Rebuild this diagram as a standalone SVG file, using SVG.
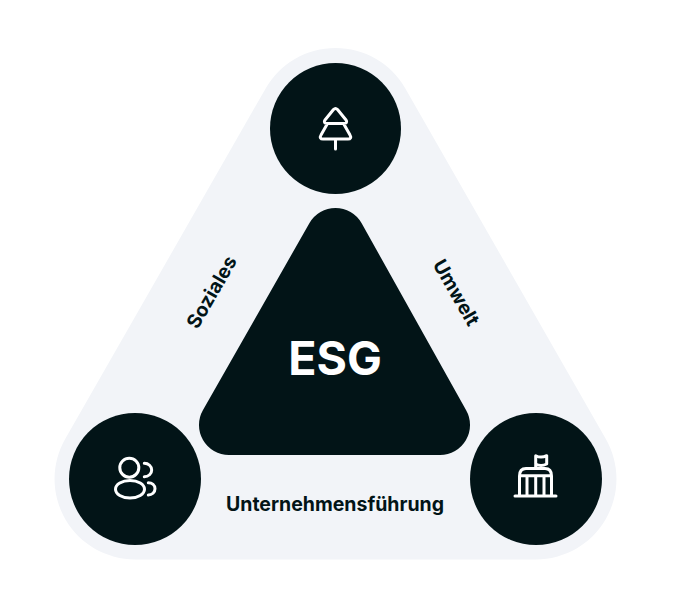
<svg xmlns="http://www.w3.org/2000/svg" width="674" height="606" viewBox="0 0 674 606">
<style>
.c{fill:#021417}
.i{fill:none;stroke:#fff;stroke-width:3;stroke-linecap:round;stroke-linejoin:round}
.l{font-family:"Inter","Liberation Sans",sans-serif;font-weight:700;font-size:19.500px;fill:#021417;text-anchor:middle}
</style>
<rect width="674" height="606" fill="#fff"/>
<g id="background"><path d="M265.800 88.200A80.500 80.500 0 0 1 405.200 88.200L605.700 438.800A80.500 80.500 0 0 1 536 559.500H135A80.500 80.500 0 0 1 65.300 438.800Z" fill="#f2f4f8"/></g>
<g id="connectors"></g>
<g id="center"><path class="c" d="M309.500 223A30 30 0 0 1 361.500 223L466 410A30 30 0 0 1 440 455H229A30 30 0 0 1 203 410Z"/>
<text x="335" y="375" font-family="Inter,'Liberation Sans',sans-serif" font-weight="700" font-size="46.500" fill="#fff" text-anchor="middle">ESG</text></g>
<g id="umwelt"><circle class="c" cx="335.500" cy="128.500" r="65.500"/>
<path class="i" d="M333.500 109.500L325 120C323.500 122 324.500 123.500 327 123.500H344C346.500 123.500 347.500 122 346 120L337.500 109.500Q335.500 107.500 333.500 109.500ZM327.500 123.500L321 135C319.500 137.500 320.500 139 323 139H348C350.500 139 351.500 137.500 350 135L343.500 123.500M335.500 139V149"/>
</g>
<g id="soziales"><circle class="c" cx="135" cy="479" r="66"/>
<g class="i"><circle cx="129.300" cy="467.700" r="9.500"/><ellipse cx="130" cy="489.300" rx="14.500" ry="8.800"/><path d="M144.300 463.300C148.500 463.300 151.700 466.300 151.700 470S148.500 476.700 144.300 476.700M148.300 482.700C152 482.700 155 485.200 155 488.800S152 495 148.300 495"/></g></g>
<g id="unternehmensfuehrung"><circle class="c" cx="536" cy="479" r="66"/>
<g class="i"><path d="M515 496H556M519.500 496V476C519.500 471 522 468.500 526 468.500H545C549 468.500 551.500 471 551.500 476V496M519.500 475.700H551.500M527 476V496M535.700 476V496M544 476V496M535.700 468.500V455.700C539 457.500 543 457.500 546.700 455.700V464C543 465.800 539 465.800 535.700 464"/></g></g>
<g id="labels">
<text class="l" transform="translate(211.500 292) rotate(-60)" y="7">Soziales</text>
<text class="l" transform="translate(456.500 292.500) rotate(60)" y="7">Umwelt</text>
<text class="l" x="335" y="511">Unternehmensführung</text>
</g>
</svg>
